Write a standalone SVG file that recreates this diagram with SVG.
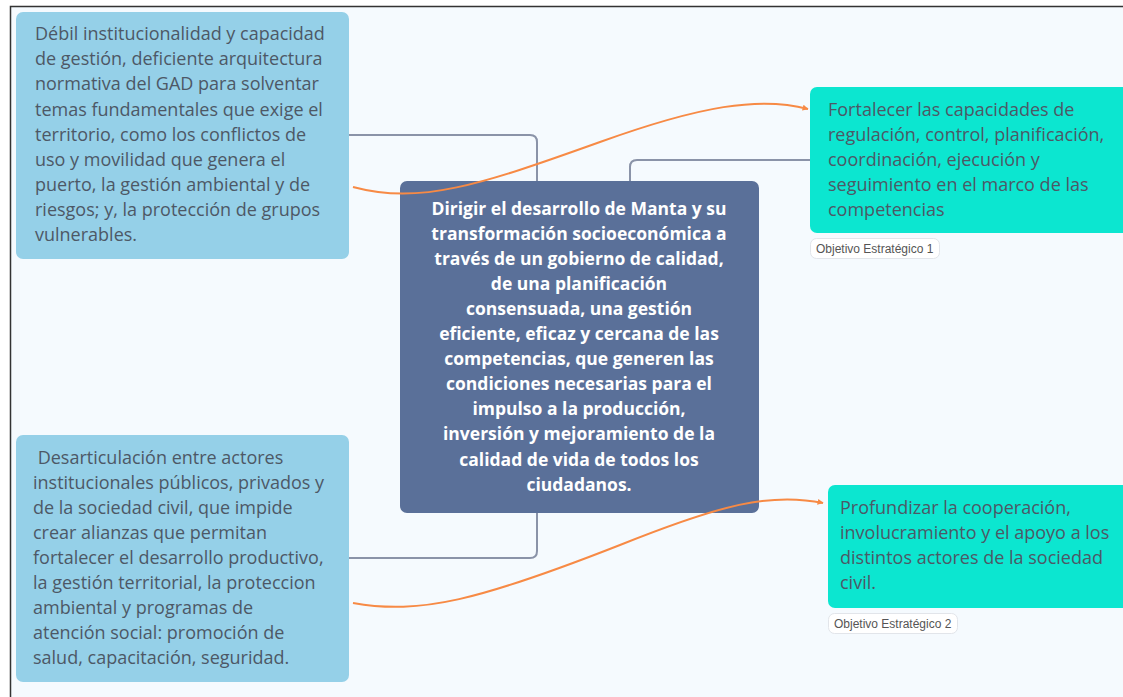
<svg xmlns="http://www.w3.org/2000/svg" width="1123" height="697" viewBox="0 0 1123 697">
<style>
.t{font-family:"Open Sans","Noto Sans",sans-serif;font-size:18px;fill:#4d5866}
.c{font-family:"Open Sans","Noto Sans",sans-serif;font-size:17.5px;font-weight:bold;fill:#ffffff;text-anchor:middle}
.lab{font-family:"Liberation Sans",Arial,sans-serif;font-size:12px;fill:#555555}
.conn{fill:none;stroke:#8a93a8;stroke-width:2}
.rel{fill:none;stroke:#f78a45;stroke-width:2}
.pill{fill:#ffffff;stroke:#e2e5ea;stroke-width:1}
</style>
<defs>
<marker id="ah" viewBox="0 0 10 10" refX="9" refY="5" markerWidth="6" markerHeight="6" markerUnits="userSpaceOnUse" orient="auto">
<path d="M0,0 L10,5 L0,10 z" fill="#f78a45"/>
</marker>
</defs>
<rect x="0" y="0" width="1123" height="697" fill="#ffffff"/>
<rect x="11" y="7" width="1112" height="690" fill="#f5fafe"/>
<path d="M10.5,697 V6.5 H1123" fill="none" stroke="#333333" stroke-width="1.5"/>

<g id="node-problem1">
<rect x="16" y="12" width="333" height="247" rx="7" fill="#95d0e8"/>
<text class="t" x="35" y="40">Débil institucionalidad y capacidad</text>
<text class="t" x="35" y="65">de gestión, deficiente arquitectura</text>
<text class="t" x="35" y="90">normativa del GAD para solventar</text>
<text class="t" x="35" y="116">temas fundamentales que exige el</text>
<text class="t" x="35" y="141">territorio, como los conflictos de</text>
<text class="t" x="35" y="166">uso y movilidad que genera el</text>
<text class="t" x="35" y="191">puerto, la gestión ambiental y de</text>
<text class="t" x="35" y="216">riesgos; y, la protección de grupos</text>
<text class="t" x="35" y="241">vulnerables.</text>
</g>

<g id="node-problem2">
<rect x="16" y="435" width="333" height="247" rx="7" fill="#95d0e8"/>
<text class="t" x="33" y="464" xml:space="preserve"> Desarticulación entre actores</text>
<text class="t" x="33" y="489">institucionales públicos, privados y</text>
<text class="t" x="33" y="514">de la sociedad civil, que impide</text>
<text class="t" x="33" y="539">crear alianzas que permitan</text>
<text class="t" x="33" y="564">fortalecer el desarrollo productivo,</text>
<text class="t" x="33" y="589">la gestión territorial, la proteccion</text>
<text class="t" x="33" y="614">ambiental y programas de</text>
<text class="t" x="33" y="639">atención social: promoción de</text>
<text class="t" x="33" y="664">salud, capacitación, seguridad.</text>
</g>

<g id="node-center">
<rect x="400" y="181" width="359" height="332" rx="7" fill="#5a7099"/>
<text class="c" x="579" y="215">Dirigir el desarrollo de Manta y su</text>
<text class="c" x="579" y="240">transformación socioeconómica a</text>
<text class="c" x="579" y="265">través de un gobierno de calidad,</text>
<text class="c" x="579" y="290">de una planificación</text>
<text class="c" x="579" y="315">consensuada, una gestión</text>
<text class="c" x="579" y="340">eficiente, eficaz y cercana de las</text>
<text class="c" x="579" y="365">competencias, que generen las</text>
<text class="c" x="579" y="390">condiciones necesarias para el</text>
<text class="c" x="579" y="415">impulso a la producción,</text>
<text class="c" x="579" y="440">inversión y mejoramiento de la</text>
<text class="c" x="579" y="466">calidad de vida de todos los</text>
<text class="c" x="579" y="491">ciudadanos.</text>
</g>

<g id="node-objective1">
<rect x="810" y="87" width="320" height="146" rx="7" fill="#0ce6d0"/>
<text class="t" x="828" y="116">Fortalecer las capacidades de</text>
<text class="t" x="828" y="141">regulación, control, planificación,</text>
<text class="t" x="828" y="166">coordinación, ejecución y</text>
<text class="t" x="828" y="191">seguimiento en el marco de las</text>
<text class="t" x="828" y="216">competencias</text>
<rect class="pill" x="810.5" y="238.5" width="129" height="20" rx="6"/>
<text class="lab" x="816" y="253">Objetivo Estratégico 1</text>
</g>

<g id="node-objective2">
<rect x="828" y="485" width="302" height="123" rx="7" fill="#0ce6d0"/>
<text class="t" x="840" y="514">Profundizar la cooperación,</text>
<text class="t" x="840" y="539">involucramiento y el apoyo a los</text>
<text class="t" x="840" y="564">distintos actores de la sociedad</text>
<text class="t" x="840" y="589">civil.</text>
<rect class="pill" x="828.5" y="613.5" width="129" height="20" rx="6"/>
<text class="lab" x="834" y="628">Objetivo Estratégico 2</text>
</g>

<g id="connectors">
<path class="conn" d="M349,135 H530 Q537,135 537,142 V181"/>
<path class="conn" d="M630,181 V167 Q630,160 637,160 H810"/>
<path class="conn" d="M537,513 V551 Q537,558 530,558 H349"/>
<path class="rel" marker-end="url(#ah)" d="M353,187 C420,205 480,185 600,142 C700,106 760,96 808,109"/>
<path class="rel" marker-end="url(#ah)" d="M353,603 C420,615 480,600 620,545 C720,505 770,492 823,503"/>
</g>
</svg>
